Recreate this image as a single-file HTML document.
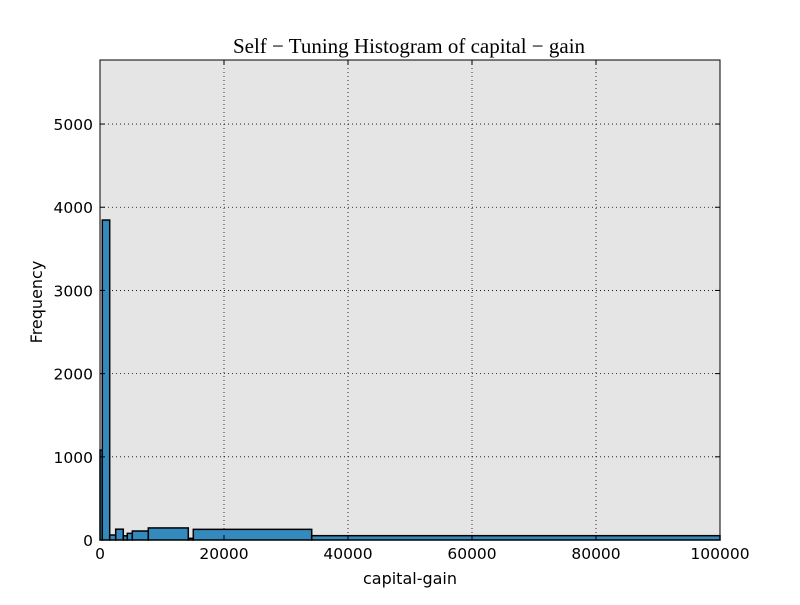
<!DOCTYPE html>
<html><head><meta charset="utf-8"><style>
body{margin:0;background:#fff;}
svg text{font-family:"DejaVu Sans",sans-serif;}
</style></head><body>
<svg width="800" height="600" xmlns="http://www.w3.org/2000/svg">
<rect x="0" y="0" width="800" height="600" fill="#fff"/>
<rect x="100" y="60" width="620" height="480" fill="#e5e5e5"/>
<g id="grid"></g>
<g id="bars"></g>
<rect x="100" y="60" width="620" height="480" fill="none" stroke="#000" stroke-width="1"/>
<g id="ticks"></g>
<text x="409" y="53" text-anchor="middle" font-size="21" style="font-family:'Liberation Serif',serif">Self − Tuning Histogram of capital − gain</text>
<text x="410" y="584" text-anchor="middle" font-size="16">capital-gain</text>
<text x="42" y="302" text-anchor="middle" font-size="16" transform="rotate(-90 42 302)">Frequency</text>
</svg>
<script>
const binEdges=[0,371,1565,2532,3758,4403,5210,7790,14242,15048,34145,100000];
const counts=[1080,3846,60,130,50,80,108,145,20,128,52];
const xTicks=[0,20000,40000,60000,80000,100000];
const yTicks=[0,1000,2000,3000,4000,5000];
const NS="http://www.w3.org/2000/svg";
const X0=100,X1=720,Y0=540,Y1=60,XMAX=100000,YMAX=5770;
function sx(v){return X0+v/XMAX*(X1-X0);}
function sy(v){return Y0-v/YMAX*(Y0-Y1);}
function mk(t,a,p){const e=document.createElementNS(NS,t);for(const k in a)e.setAttribute(k,a[k]);p.appendChild(e);return e;}
const grid=document.getElementById('grid'),bars=document.getElementById('bars'),ticks=document.getElementById('ticks');
xTicks.forEach(v=>{const x=sx(v);
 const g=mk('line',{x1:x,x2:x,y1:Y1,y2:Y0,stroke:'#000','stroke-width':0.8,'stroke-dasharray':'1,3'},grid);
 
 
 const t1=mk('line',{x1:x,x2:x,y1:Y0,y2:Y0-5,stroke:'#000'},ticks);
 
 
 const t2=mk('line',{x1:x,x2:x,y1:Y1,y2:Y1+5,stroke:'#000'},ticks);
 
 
 const l=mk('text',{x:x,y:559,'text-anchor':'middle','font-size':15.5},ticks);l.textContent=v;
 
 
});
yTicks.forEach(v=>{const y=sy(v);
 const g=mk('line',{x1:X0,x2:X1,y1:y,y2:y,stroke:'#000','stroke-width':0.8,'stroke-dasharray':'1,3'},grid);
 
 
 const t1=mk('line',{x1:X0,x2:X0+5,y1:y,y2:y,stroke:'#000'},ticks);
 
 
 const t2=mk('line',{x1:X1,x2:X1-5,y1:y,y2:y,stroke:'#000'},ticks);
 
 
 const l=mk('text',{x:93,y:y+6,'text-anchor':'end','font-size':15.5},ticks);l.textContent=v;
 
 
});
counts.forEach((c,i)=>{const x=sx(binEdges[i]),w=sx(binEdges[i+1])-x,y=sy(c);
 const r=mk('rect',{x:x,y:y,width:w,height:Y0-y,fill:'#348abd',stroke:'#000','stroke-width':1.5},bars);
 
 
});
</script>
</body></html>
